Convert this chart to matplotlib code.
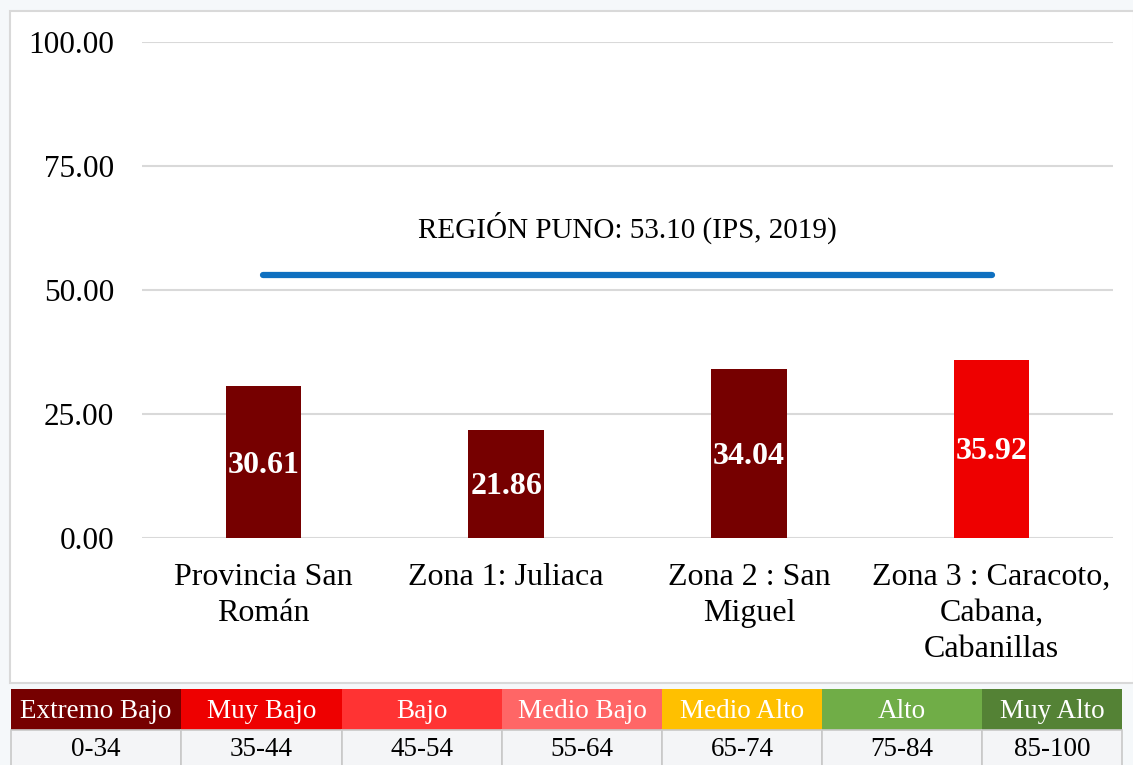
import matplotlib.pyplot as plt
from matplotlib.patches import Rectangle

plt.rcParams['font.family'] = ['Liberation Serif', 'DejaVu Serif']

# datos del gráfico
categorias = ['Provincia San\nRomán', 'Zona 1: Juliaca', 'Zona 2 : San\nMiguel',
              'Zona 3 : Caracoto,\nCabana,\nCabanillas']
valores = [30.61, 21.86, 34.04, 35.92]
region_puno = 53.10
region_texto = 'REGIÓN PUNO: 53.10 (IPS, 2019)'
yticks = [0, 25, 50, 75, 100]

# escala de niveles del IPS
niveles = ['Extremo Bajo', 'Muy Bajo', 'Bajo', 'Medio Bajo', 'Medio Alto', 'Alto', 'Muy Alto']
rangos = ['0-34', '35-44', '45-54', '55-64', '65-74', '75-84', '85-100']
limite_inferior = [0, 35, 45, 55, 65, 75, 85]
colores_nivel = ['#760000', '#EE0000', '#FF3333', '#FF6666', '#FFC000', '#70AD47', '#548235']


def color_de(valor):
    idx = 0
    for i, li in enumerate(limite_inferior):
        if valor >= li:
            idx = i
    return colores_nivel[idx]


W, H = 1133, 765
fig = plt.figure(figsize=(W / 100, H / 100), dpi=100, facecolor='#F5F8FA')

# capa de fondo en coordenadas de píxel: marco del gráfico y tabla de niveles
bg = fig.add_axes([0, 0, 1, 1])
bg.set_xlim(0, W)
bg.set_ylim(H, 0)
bg.axis('off')
bg.add_patch(Rectangle((10, 11), W - 9, 672, facecolor='white', edgecolor='#D9D9D9', lw=1.5))

bordes = [11, 181, 342, 502, 662, 822, 982, 1122]
for i, nombre in enumerate(niveles):
    x0, x1 = bordes[i], bordes[i + 1]
    bg.add_patch(Rectangle((x0, 689), x1 - x0, 41, facecolor=colores_nivel[i], edgecolor='none'))
    bg.add_patch(Rectangle((x0, 730), x1 - x0, 40, facecolor='#F4F5F7', edgecolor='#C8C8C8', lw=1.2))
    bg.text((x0 + x1) / 2, 711, nombre, color='white', fontsize=19.5, ha='center', va='center')
    bg.text((x0 + x1) / 2, 750, rangos[i], color='black', fontsize=19.5, ha='center', va='center')

# gráfico de barras
ax = fig.add_axes([142 / W, (H - 538) / H, (1113 - 142) / W, (538 - 42) / H])
ax.set_facecolor('none')
x = list(range(len(categorias)))
ax.bar(x, valores, width=0.31, color=[color_de(v) for v in valores], zorder=3)
for xi, v in zip(x, valores):
    ax.text(xi, v / 2 - 0.6, f'{v:.2f}', color='white', fontsize=23, fontweight='bold',
            ha='center', va='center', zorder=4)

ax.plot([0, 3], [region_puno, region_puno], color='#0F70C0', lw=4.5,
        solid_capstyle='round', zorder=5)
ax.text(1.5, 62.5, region_texto, fontsize=21, ha='center', va='center')

ax.set_xlim(-0.5, 3.5)
ax.set_ylim(0, 100)
ax.set_yticks(yticks)
ax.set_yticklabels([f'{t:.2f}' for t in yticks], fontsize=22.5)
ax.set_xticks(x)
ax.set_xticklabels(categorias, fontsize=23, linespacing=1.32, va='top')
ax.tick_params(axis='y', length=0, pad=20)
ax.tick_params(axis='x', length=0, pad=18)
ax.grid(axis='y', color='#D9D9D9', lw=1.5, zorder=0)
for s in ax.spines.values():
    s.set_visible(False)

fig.savefig('out.png', dpi=100, facecolor=fig.get_facecolor())
